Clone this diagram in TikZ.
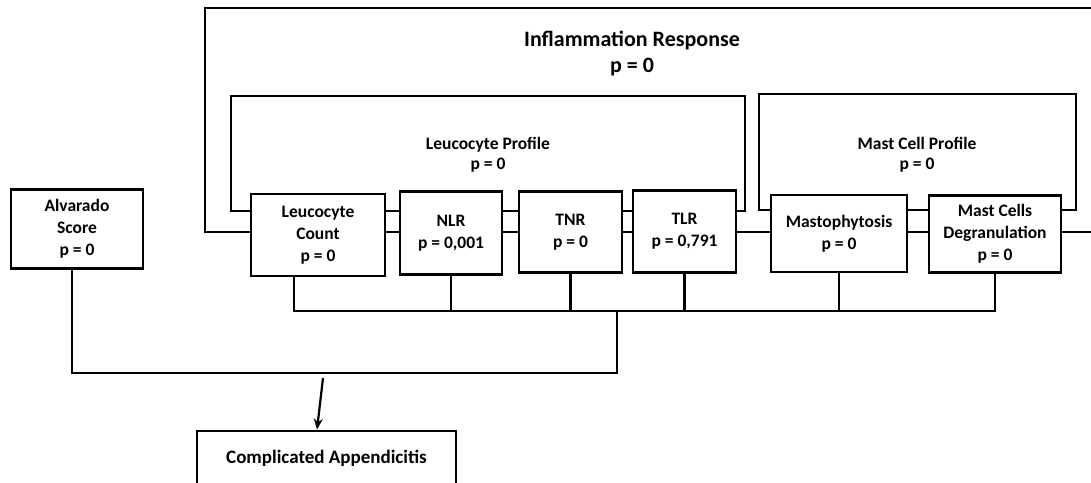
\documentclass[tikz,border=0pt]{standalone}
\usepackage{fontspec}
\setmainfont{Carlito}
\usetikzlibrary{arrows.meta}
\begin{document}
\begin{tikzpicture}[x=1pt,y=-1pt,
  ln/.style={line width=2.8pt},
  box/.style={draw, ln, fill=white, inner sep=0pt, align=center, font=\bfseries\fontsize{17.5}{22}\selectfont},
  frame/.style={draw, ln, inner sep=0pt},
  lbl/.style={align=center, inner sep=0pt, font=\bfseries\fontsize{17.5}{20}\selectfont},
  biglbl/.style={align=center, inner sep=0pt, font=\bfseries\fontsize{22}{26}\selectfont},
]
\useasboundingbox (0,0) rectangle (1091,482);
% outer frame (open to the right)
\coordinate (o1) at (1100,8);
\coordinate (o2) at (205,8);
\coordinate (o3) at (205,232);
\coordinate (o4) at (1100,232);
\draw[ln] (o1) -- (o2) -- (o3) -- (o4);
\node[biglbl] (infl) at (632,53) {Inflammation Response\\p = 0};
% profile frames
\node[frame, minimum width=514pt, minimum height=115pt] (lpf) at (488,153.5) {};
\node[lbl] (lp) at (488,155) {Leucocyte Profile\\p = 0};
\node[frame, minimum width=317pt, minimum height=116pt] (mpf) at (917.5,152) {};
\node[lbl] (mp) at (917,155) {Mast Cell Profile\\p = 0};
% boxes
\node[box, minimum width=132pt, minimum height=79pt] (alv) at (77,229) {Alvarado\\Score\\p = 0};
\node[box, minimum width=134pt, minimum height=82pt] (lc) at (318,235) {Leucocyte\\Count\\p = 0};
\node[box, minimum width=102pt, minimum height=83pt] (nlr) at (451,233) {NLR\\p = 0,001};
\node[box, minimum width=103pt, minimum height=81pt] (tnr) at (570.5,232) {TNR\\p = 0};
\node[box, minimum width=103pt, minimum height=82pt] (tlr) at (684.5,231.5) {TLR\\p = 0,791};
\node[box, minimum width=136pt, minimum height=77pt] (mast) at (839,233.5) {Mastophytosis\\p = 0};
\node[box, minimum width=132pt, minimum height=77pt] (mcd) at (995,234) {Mast Cells\\Degranulation\\p = 0};
\node[box, minimum width=259pt, minimum height=54pt, font=\bfseries\fontsize{19}{22}\selectfont] (ca) at (326.5,458) {Complicated Appendicitis};
% bus
\coordinate (b1) at (294,311);
\coordinate (b2) at (995,311);
\draw[ln] (lc.south -| b1) -- (b1) -- (b2) -- (mcd.south);
\draw[ln] (nlr.south) -- (nlr.south |- b1);
\draw[ln] (tnr.south) -- (tnr.south |- b1);
\draw[ln] (tlr.south) -- (tlr.south |- b1);
\draw[ln] (mast.south) -- (mast.south |- b1);
% join to Alvarado
\coordinate (j1) at (617,311);
\coordinate (j2) at (617,373);
\coordinate (j3) at (72,373);
\draw[ln] (j1) -- (j2) -- (j3) -- (alv.south -| j3);
% arrow
\coordinate (as) at (323,378);
\draw[line width=2.2pt, -{Stealth[length=11pt,width=9pt]}] (as) -- ([xshift=-9.5pt]ca.north);
\end{tikzpicture}
\end{document}
